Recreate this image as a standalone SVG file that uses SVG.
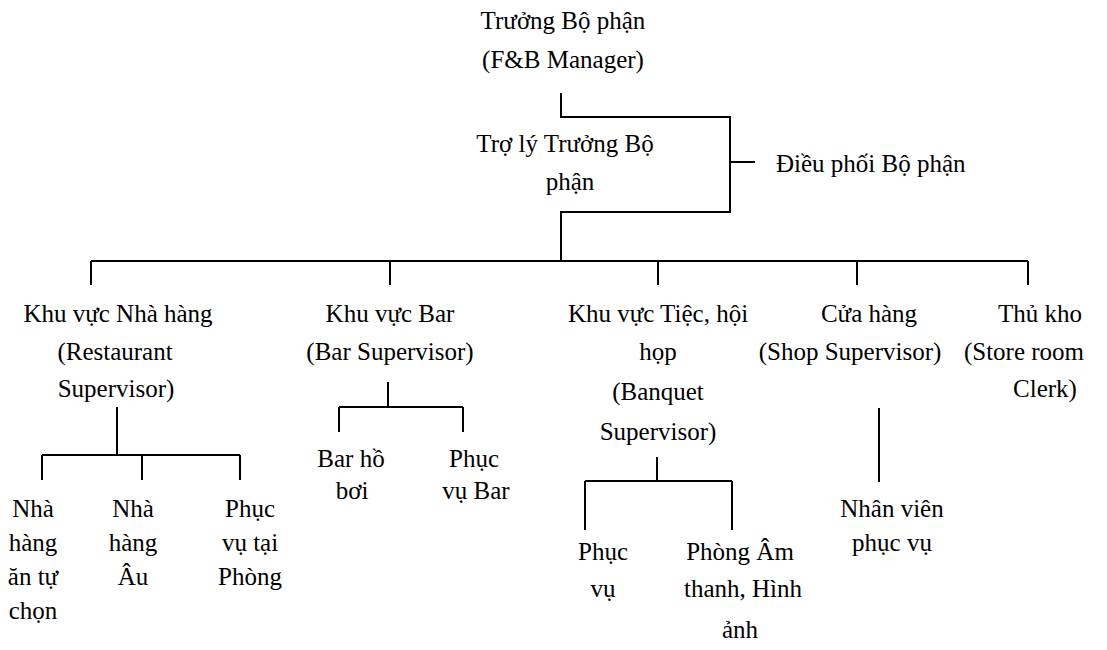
<svg xmlns="http://www.w3.org/2000/svg" width="1107" height="650" viewBox="0 0 1107 650">
<style>
.t{font-family:"Liberation Serif","Times New Roman",serif;font-size:25px;fill:#000;text-anchor:middle}
.s{text-anchor:start}
.l{stroke:#000;stroke-width:2;fill:none}
</style>
<rect width="1107" height="650" fill="#fff"/>
<g id="connectors" class="l">
<path d="M561 93V117H730V212H561V261"/>
<path d="M730 162H755"/>
<path d="M91 261H1028"/>
<path d="M91 261V285M390 261V285M658 261V285M857 261V285M1028 261V285"/>
<path d="M117 407V455M42 455H240M42 455V480M142 455V480M240 455V480"/>
<path d="M388 382V407M339 407H463M339 407V432M463 407V432"/>
<path d="M657 457V481M585 481H732M585 481V530M732 481V530"/>
<path d="M879 408V482"/>
</g>
<g id="manager" class="t"><text x="563" y="29">Trưởng Bộ phận</text><text x="563" y="68">(F&amp;B Manager)</text></g>
<g id="assistant" class="t"><text x="565" y="152">Trợ lý Trưởng Bộ</text><text x="570" y="190">phận</text></g>
<g id="coordinator" class="t"><text class="s" x="776" y="172">Điều phối Bộ phận</text></g>
<g id="restaurant" class="t"><text x="118" y="322">Khu vực Nhà hàng</text><text x="115" y="360">(Restaurant</text><text x="116" y="397">Supervisor)</text></g>
<g id="bar" class="t"><text x="390" y="322">Khu vực Bar</text><text x="390" y="360">(Bar Supervisor)</text></g>
<g id="banquet" class="t"><text x="658" y="322">Khu vực Tiệc, hội</text><text x="658" y="360">họp</text><text x="658" y="400">(Banquet</text><text x="658" y="440">Supervisor)</text></g>
<g id="shop" class="t"><text x="869" y="322">Cửa hàng</text><text x="850" y="360">(Shop Supervisor)</text></g>
<g id="store" class="t"><text x="1040" y="322">Thủ kho</text><text x="1024" y="360">(Store room</text><text x="1045" y="397">Clerk)</text></g>
<g id="buffet" class="t"><text x="33" y="517">Nhà</text><text x="33" y="551">hàng</text><text x="33" y="585">ăn tự</text><text x="33" y="619">chọn</text></g>
<g id="european" class="t"><text x="133" y="517">Nhà</text><text x="133" y="551">hàng</text><text x="133" y="585">Âu</text></g>
<g id="roomservice" class="t"><text x="250" y="517">Phục</text><text x="250" y="551">vụ tại</text><text x="250" y="585">Phòng</text></g>
<g id="poolbar" class="t"><text x="351" y="467">Bar hồ</text><text x="352" y="499">bơi</text></g>
<g id="barservice" class="t"><text x="474" y="467">Phục</text><text x="476" y="499">vụ Bar</text></g>
<g id="banquetservice" class="t"><text x="603" y="560">Phục</text><text x="603" y="597">vụ</text></g>
<g id="av" class="t"><text x="740" y="560">Phòng Âm</text><text x="743" y="597">thanh, Hình</text><text x="740" y="638">ảnh</text></g>
<g id="shopstaff" class="t"><text x="892" y="517">Nhân viên</text><text x="892" y="551">phục vụ</text></g>
</svg>
